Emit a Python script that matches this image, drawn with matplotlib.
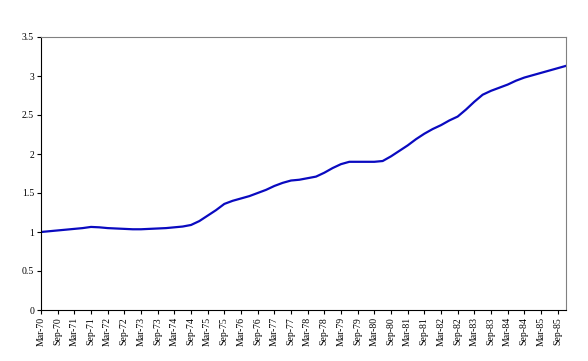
import matplotlib
matplotlib.use("Agg")
import matplotlib.pyplot as plt
import numpy as np

# Quarterly index values, Mar-70 .. Dec-85
values = [1.00, 1.01, 1.02, 1.03, 1.04, 1.05, 1.065, 1.06,
          1.05, 1.045, 1.04, 1.035, 1.035, 1.04, 1.045, 1.05,
          1.06, 1.07, 1.09, 1.14, 1.21, 1.28, 1.36, 1.40,
          1.43, 1.46, 1.50, 1.54, 1.59, 1.63, 1.66, 1.67,
          1.69, 1.71, 1.76, 1.82, 1.87, 1.90, 1.90, 1.90,
          1.90, 1.91, 1.97, 2.04, 2.11, 2.19, 2.26, 2.32,
          2.37, 2.43, 2.48, 2.57, 2.67, 2.76, 2.81, 2.85,
          2.89, 2.94, 2.98, 3.01, 3.04, 3.07, 3.10, 3.13]
months = ["Mar", "Jun", "Sep", "Dec"]
years = list(range(70, 86))
quarters = [f"{m}-{y:02d}" for y in years for m in months]
tick_labels = [q for q in quarters if q.startswith(("Mar", "Sep"))]
y_ticks = [0, 0.5, 1, 1.5, 2, 2.5, 3, 3.5]
y_tick_labels = ["0", "0.5", "1", "1.5", "2", "2.5", "3", "3.5"]

plt.rcParams['font.family'] = ['Liberation Serif', 'DejaVu Serif']

fig = plt.figure(figsize=(5.88, 3.61), dpi=100)
ax = fig.add_axes([41/588, 1 - 310/361, (566 - 41)/588, (310 - 37)/361])

x = np.arange(len(values))
ax.plot(x, values, color='#0A0AC0', lw=1.6, solid_joinstyle='round')

ax.set_xlim(0, len(values) - 1)
ax.set_ylim(0, 3.5)
tick_pos = [quarters.index(t) for t in tick_labels]
ax.set_xticks(tick_pos)
ax.set_xticklabels(tick_labels, rotation=90, fontsize=7)
ax.set_yticks(y_ticks)
ax.set_yticklabels(y_tick_labels, fontsize=7)

ax.spines['left'].set_color('black')
ax.spines['bottom'].set_color('black')
ax.spines['top'].set_color('#808080')
ax.spines['right'].set_color('#808080')
for s in ax.spines.values():
    s.set_linewidth(0.8)
ax.tick_params(axis='both', direction='out', length=3, width=0.8, pad=2)

fig.savefig("out.png", dpi=100)
